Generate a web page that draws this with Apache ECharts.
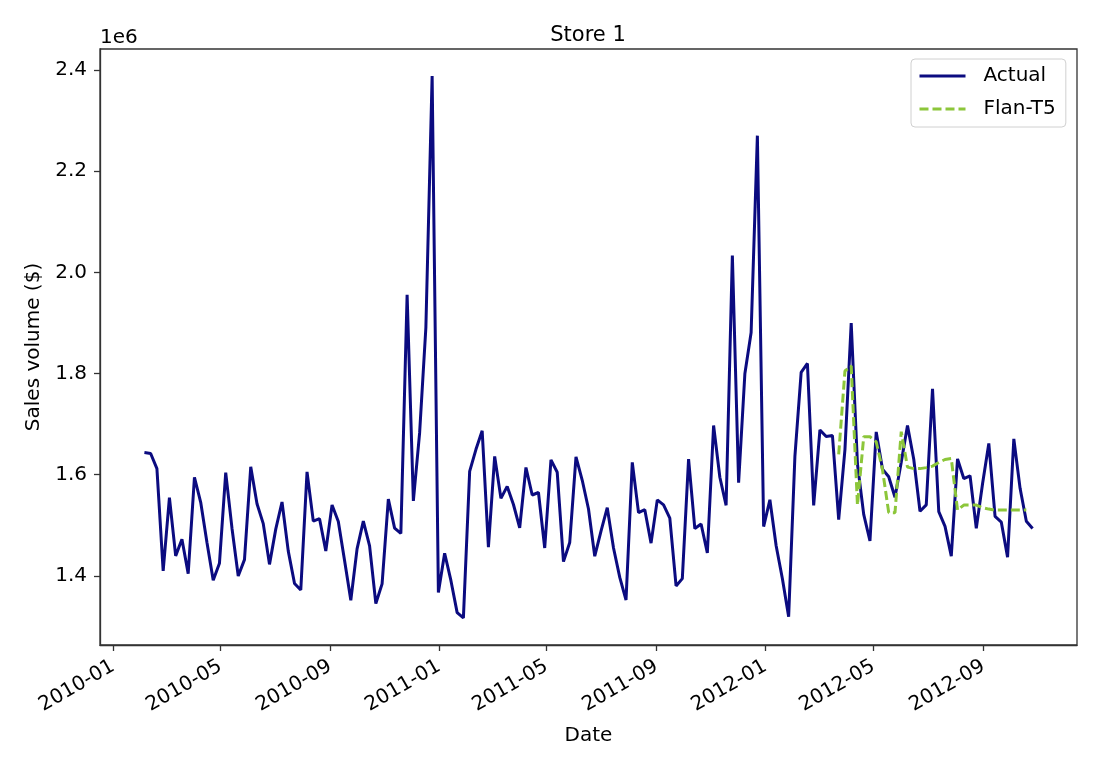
<!DOCTYPE html>
<html>
<head>
<meta charset="utf-8">
<script src="https://cdn.jsdelivr.net/npm/echarts@6/dist/echarts.min.js"></script>
<style>
  html, body { margin: 0; padding: 0; background: #fff; }
  #chart { width: 1100px; height: 769px; }
</style>
</head>
<body>
<div id="chart"></div>
<script>
// weekly sales, store 1
var actualStart = '2010-02-05';
var actualSales = [
  1643690.90, 1641957.44, 1611968.17, 1409727.59, 1554806.68, 1439541.59, 1472515.79, 1404429.92,
  1594968.28, 1545418.53, 1466058.28, 1391256.12, 1425100.71, 1603955.12, 1494251.50, 1399662.07,
  1432069.95, 1615524.71, 1542561.09, 1503284.06, 1422711.60, 1492418.14, 1546074.18, 1448938.92,
  1385065.20, 1371986.60, 1605491.78, 1508237.76, 1513080.49, 1449142.92, 1540163.53, 1507460.69,
  1430378.67, 1351791.03, 1453329.50, 1508239.93, 1459409.10, 1345454.00, 1384209.22, 1551659.28,
  1494479.49, 1483784.18, 1955624.11, 1548033.78, 1682614.26, 1891034.93, 2387950.20, 1367320.01,
  1444732.28, 1391013.96, 1327405.42, 1316899.31, 1606629.58, 1649614.93, 1686842.78, 1456800.28,
  1636263.41, 1553191.63, 1576818.06, 1541102.38, 1495064.75, 1614259.35, 1559889.00, 1564819.81,
  1455090.69, 1629391.28, 1604775.58, 1428218.27, 1466046.67, 1635078.41, 1588948.32, 1532114.86,
  1438830.15, 1488538.09, 1534849.64, 1455119.97, 1396926.82, 1352219.79, 1624383.75, 1525147.09,
  1530761.43, 1464693.46, 1550229.22, 1540471.24, 1514259.78, 1380020.27, 1394561.83, 1630989.95,
  1493525.93, 1502562.78, 1445249.09, 1697229.58, 1594938.89, 1539483.70, 2033320.66, 1584083.95,
  1799520.14, 1881176.67, 2270188.99, 1497462.72, 1550369.92, 1459601.17, 1394393.84, 1319325.59,
  1636339.65, 1802477.43, 1819870.00, 1539387.83, 1688420.76, 1675431.16, 1677472.78, 1511068.07,
  1649604.63, 1899676.88, 1621031.70, 1521577.87, 1468928.37, 1684519.99, 1611096.05, 1595901.87,
  1555444.55, 1624477.58, 1697230.96, 1630607.00, 1527845.81, 1540421.49, 1769854.16, 1527014.04,
  1497954.76, 1439123.71, 1631135.79, 1592409.97, 1597868.05, 1494122.38, 1582083.40, 1661767.33,
  1517428.87, 1506126.06, 1437059.26, 1670785.97, 1573072.81, 1508068.77, 1493659.74
];

// Flan-T5 forecast
var flanStart = '2012-03-23';
var flanSales = [
  1640000, 1805000, 1815000, 1540000, 1675000, 1675000, 1665000, 1610000,
  1525000, 1525000, 1685000, 1615000, 1612000, 1612000, 1614000, 1617000,
  1624000, 1630000, 1632000, 1530000, 1540000, 1540000, 1540000, 1535000,
  1532000, 1530000, 1530000, 1530000, 1530000, 1530000, 1530000
];

var xTickLabels = ['2010-01', '2010-05', '2010-09', '2011-01', '2011-05', '2011-09', '2012-01', '2012-05', '2012-09'];
var yTickLabels = [1.4, 1.6, 1.8, 2.0, 2.2, 2.4];

var DAY = 24 * 3600 * 1000;

function weekly(start, values) {
  var t0 = new Date(start + 'T00:00:00Z').getTime();
  return values.map(function (v, i) {
    return [t0 + i * 7 * DAY, v];
  });
}

var actualData = weekly(actualStart, actualSales);
var flanData = weekly(flanStart, flanSales);

// matplotlib style 5% margins
var tMin = actualData[0][0], tMax = actualData[actualData.length - 1][0];
var vMin = Math.min.apply(null, actualSales), vMax = Math.max.apply(null, actualSales);
var xPad = (tMax - tMin) * 0.05, yPad = (vMax - vMin) * 0.05;

var xTicks = xTickLabels.map(function (s) { return new Date(s + '-01T00:00:00Z').getTime(); });
var yTicks = yTickLabels.map(function (v) { return v * 1e6; });

var font = 'DejaVu Sans';

var chart = echarts.init(document.getElementById('chart'), null, { renderer: 'canvas' });

var option = {
  backgroundColor: '#ffffff',
  animation: false,
  textStyle: { fontFamily: font, color: '#000' },
  title: {
    text: 'Store 1',
    left: 583,
    top: 20,
    textAlign: 'center',
    textStyle: { fontFamily: font, fontSize: 21, fontWeight: 'normal', color: '#000' }
  },
  graphic: [{
    type: 'text',
    left: 100,
    top: 28,
    style: { text: '1e6', font: '20px "DejaVu Sans"', fill: '#000' }
  }],
  legend: {
    orient: 'vertical',
    left: 911,
    top: 59,
    padding: [7, 10, 8, 7],
    itemWidth: 46,
    itemHeight: 20,
    itemGap: 13,
    borderColor: '#d0d0d0',
    borderWidth: 1,
    borderRadius: 4,
    itemStyle: { opacity: 0 },
    lineStyle: { width: 3 },
    textStyle: { fontFamily: font, fontSize: 20, color: '#000', padding: [0, 0, 0, 13] },
    data: ['Actual', 'Flan-T5']
  },
  grid: {
    left: 100, right: 23, top: 49, bottom: 124,
    show: true,
    borderColor: '#333',
    borderWidth: 1.3,
    containLabel: false
  },
  xAxis: {
    type: 'value',
    min: tMin - xPad,
    max: tMax + xPad,
    name: 'Date',
    nameLocation: 'middle',
    nameGap: 81,
    nameTextStyle: { fontFamily: font, fontSize: 20, color: '#000' },
    axisLine: { lineStyle: { color: '#333', width: 1.3 } },
    axisTick: { show: true, length: 6, lineStyle: { color: '#333', width: 1.3 }, customValues: xTicks },
    axisLabel: {
      customValues: xTicks,
      rotate: 30,
      margin: 20,
      fontFamily: font,
      fontSize: 20,
      color: '#000',
      hideOverlap: false,
      formatter: function (v) {
        var d = new Date(v);
        var m = d.getUTCMonth() + 1;
        return d.getUTCFullYear() + '-' + (m < 10 ? '0' + m : m);
      }
    },
    splitLine: { show: false }
  },
  yAxis: {
    type: 'value',
    min: vMin - yPad,
    max: vMax + yPad,
    name: 'Sales volume ($)',
    nameLocation: 'middle',
    nameGap: 54,
    nameTextStyle: { fontFamily: font, fontSize: 20, color: '#000' },
    axisLine: { show: true, lineStyle: { color: '#333', width: 1.3 } },
    axisTick: { show: true, length: 6, lineStyle: { color: '#333', width: 1.3 }, customValues: yTicks },
    axisLabel: {
      customValues: yTicks,
      margin: 13,
      fontFamily: font,
      fontSize: 20,
      color: '#000',
      formatter: function (v) { return (v / 1e6).toFixed(1); }
    },
    splitLine: { show: false }
  },
  series: [
    {
      name: 'Actual',
      type: 'line',
      data: actualData,
      symbol: 'none',
      showSymbol: false,
      itemStyle: { color: '#0b0b80' },
      lineStyle: { color: '#0b0b80', width: 3 },
      z: 2
    },
    {
      name: 'Flan-T5',
      type: 'line',
      data: flanData,
      symbol: 'none',
      showSymbol: false,
      itemStyle: { color: '#8cc63a' },
      lineStyle: { color: '#8cc63a', width: 3, type: [9, 4] },
      z: 3
    }
  ]
};

chart.setOption(option);
</script>
</body>
</html>
